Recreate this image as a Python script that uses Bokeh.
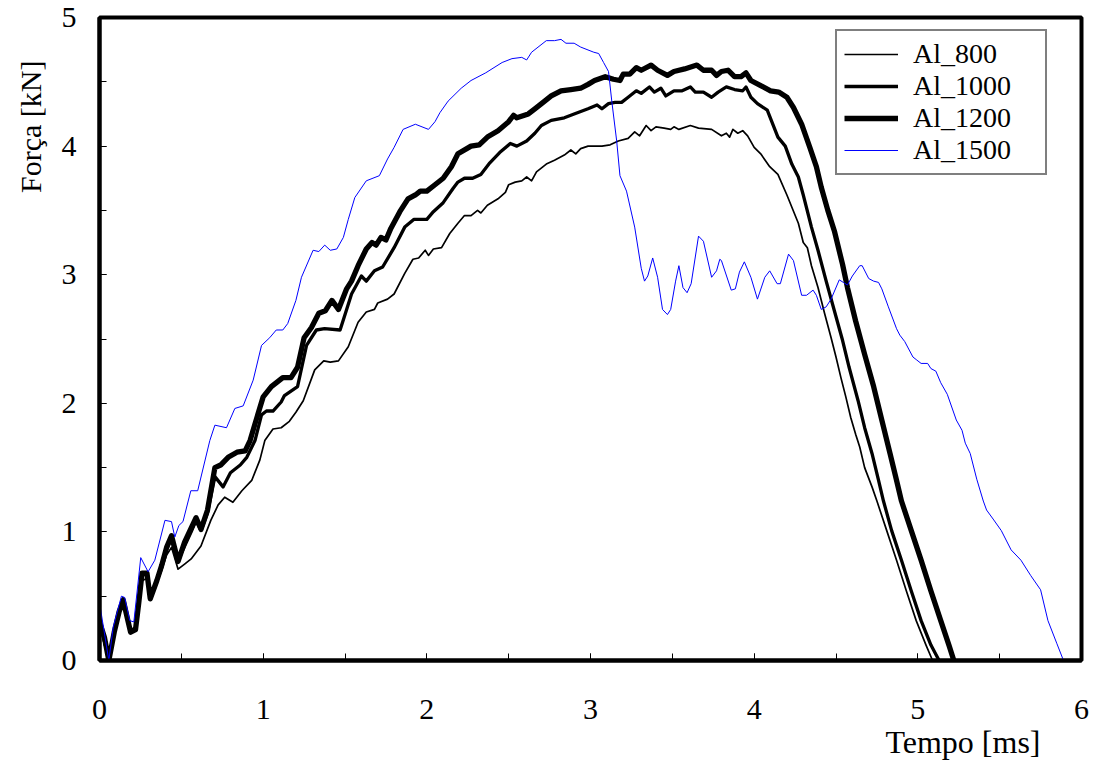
from bokeh.plotting import figure
from bokeh.models import Range1d, SingleIntervalTicker, Legend, LegendItem, Title
from bokeh.embed import file_html
from bokeh.resources import INLINE

# ---------------- data (time [ms], force [kN]) ----------------
t_al800 = [0.00, 0.03, 0.057, 0.09, 0.12, 0.145, 0.17, 0.19, 0.22, 0.24, 0.26, 0.29, 0.31, 0.35, 0.38,
           0.41, 0.44, 0.48, 0.52, 0.56, 0.62, 0.68, 0.725, 0.765, 0.815, 0.87, 0.93, 0.98, 1.01, 1.06,
           1.11, 1.16, 1.20, 1.245, 1.315, 1.37, 1.41, 1.46, 1.52, 1.58, 1.63, 1.68, 1.70, 1.76, 1.80,
           1.865, 1.915, 1.95, 1.99, 2.01, 2.04, 2.09, 2.14, 2.19, 2.23, 2.27, 2.31, 2.33, 2.37, 2.435,
           2.48, 2.50, 2.54, 2.58, 2.61, 2.64, 2.67, 2.73, 2.78, 2.84, 2.88, 2.91, 2.94, 2.985, 3.07,
           3.12, 3.17, 3.23, 3.27, 3.30, 3.34, 3.37, 3.40, 3.45, 3.49, 3.51, 3.54, 3.61, 3.66, 3.74,
           3.80, 3.83, 3.85, 3.87, 3.90, 3.93, 3.96, 4.00, 4.04, 4.095, 4.145, 4.20, 4.27, 4.30, 4.325,
           4.35, 4.39, 4.43, 4.47, 4.50, 4.53, 4.56, 4.59, 4.62, 4.645, 4.675, 4.72, 4.75, 4.81, 4.87,
           4.93, 4.99, 5.05, 5.09]
f_al800 = [0.30, 0.12, 0.00, 0.20, 0.36, 0.46, 0.32, 0.24, 0.26, 0.42, 0.62, 0.64, 0.52, 0.60, 0.70,
           0.82, 0.88, 0.71, 0.75, 0.79, 0.89, 1.09, 1.21, 1.27, 1.23, 1.32, 1.40, 1.56, 1.71, 1.80,
           1.81, 1.86, 1.93, 2.02, 2.26, 2.33, 2.32, 2.33, 2.44, 2.63, 2.71, 2.73, 2.78, 2.81, 2.85,
           3.01, 3.12, 3.13, 3.19, 3.15, 3.20, 3.21, 3.32, 3.40, 3.46, 3.46, 3.50, 3.48, 3.54, 3.59,
           3.64, 3.70, 3.72, 3.73, 3.76, 3.73, 3.80, 3.86, 3.89, 3.93, 3.97, 3.94, 3.98, 4.00, 4.00,
           4.01, 4.04, 4.06, 4.11, 4.08, 4.16, 4.12, 4.15, 4.14, 4.13, 4.15, 4.13, 4.16, 4.14, 4.13,
           4.08, 4.10, 4.07, 4.13, 4.10, 4.12, 4.08, 3.99, 3.94, 3.84, 3.78, 3.62, 3.40, 3.25, 3.21,
           3.07, 2.90, 2.70, 2.51, 2.36, 2.20, 2.05, 1.89, 1.76, 1.66, 1.50, 1.35, 1.24, 1.01, 0.78,
           0.54, 0.31, 0.12, 0.00]

t_al1000 = [0.00, 0.03, 0.057, 0.09, 0.12, 0.145, 0.17, 0.19, 0.22, 0.24, 0.26, 0.29, 0.31, 0.35, 0.38,
            0.41, 0.44, 0.48, 0.52, 0.56, 0.59, 0.62, 0.66, 0.705, 0.755, 0.80, 0.86, 0.90, 0.95, 0.99,
            1.02, 1.06, 1.11, 1.13, 1.21, 1.265, 1.325, 1.375, 1.47, 1.51, 1.54, 1.60, 1.63, 1.68, 1.73,
            1.80, 1.865, 1.92, 2.00, 2.04, 2.10, 2.16, 2.19, 2.23, 2.28, 2.33, 2.385, 2.445, 2.51, 2.55,
            2.61, 2.66, 2.70, 2.76, 2.84, 2.90, 2.985, 3.04, 3.07, 3.11, 3.15, 3.19, 3.23, 3.28, 3.31,
            3.36, 3.39, 3.43, 3.46, 3.51, 3.56, 3.61, 3.64, 3.69, 3.74, 3.78, 3.83, 3.88, 3.93, 3.95,
            3.98, 4.02, 4.08, 4.145, 4.19, 4.23, 4.27, 4.30, 4.35, 4.39, 4.44, 4.49, 4.54, 4.58, 4.635,
            4.675, 4.72, 4.76, 4.79, 4.84, 4.90, 4.96, 5.02, 5.08, 5.13]
f_al1000 = [0.35, 0.15, 0.02, 0.22, 0.38, 0.48, 0.33, 0.22, 0.25, 0.44, 0.66, 0.68, 0.50, 0.62, 0.73,
            0.86, 0.95, 0.78, 0.89, 1.00, 1.09, 1.01, 1.15, 1.43, 1.35, 1.46, 1.52, 1.58, 1.71, 1.91,
            1.94, 1.94, 2.01, 2.06, 2.13, 2.45, 2.57, 2.58, 2.57, 2.73, 2.85, 2.99, 2.95, 3.03, 3.06,
            3.21, 3.37, 3.43, 3.43, 3.49, 3.56, 3.67, 3.72, 3.75, 3.75, 3.78, 3.87, 3.95, 4.02, 4.00,
            4.04, 4.10, 4.16, 4.20, 4.22, 4.25, 4.29, 4.32, 4.29, 4.33, 4.34, 4.34, 4.38, 4.43, 4.41,
            4.46, 4.42, 4.45, 4.39, 4.43, 4.43, 4.46, 4.42, 4.42, 4.38, 4.42, 4.46, 4.44, 4.43, 4.46,
            4.38, 4.33, 4.28, 4.07, 4.00, 3.86, 3.76, 3.62, 3.37, 3.19, 2.95, 2.72, 2.49, 2.28, 2.02,
            1.81, 1.61, 1.40, 1.24, 1.01, 0.78, 0.54, 0.31, 0.12, 0.00]

t_al1200 = [0.00, 0.03, 0.057, 0.09, 0.12, 0.145, 0.17, 0.19, 0.22, 0.24, 0.26, 0.29, 0.31, 0.35, 0.38,
            0.41, 0.44, 0.48, 0.52, 0.56, 0.59, 0.62, 0.66, 0.705, 0.74, 0.786, 0.84, 0.89, 0.92, 0.95,
            1.00, 1.05, 1.12, 1.17, 1.21, 1.25, 1.295, 1.34, 1.38, 1.42, 1.46, 1.51, 1.54, 1.58, 1.63,
            1.665, 1.69, 1.72, 1.75, 1.78, 1.835, 1.885, 1.93, 1.96, 2.00, 2.04, 2.10, 2.15, 2.19, 2.27,
            2.32, 2.37, 2.435, 2.50, 2.53, 2.55, 2.62, 2.66, 2.72, 2.76, 2.82, 2.88, 2.94, 2.985, 3.025,
            3.09, 3.14, 3.18, 3.20, 3.24, 3.28, 3.31, 3.37, 3.41, 3.47, 3.51, 3.575, 3.65, 3.69, 3.74,
            3.77, 3.80, 3.84, 3.88, 3.92, 3.95, 3.98, 4.04, 4.10, 4.15, 4.20, 4.24, 4.29, 4.34, 4.38,
            4.41, 4.45, 4.49, 4.54, 4.57, 4.62, 4.675, 4.73, 4.78, 4.83, 4.87, 4.90, 4.96, 5.02, 5.08,
            5.14, 5.19, 5.22]
f_al1200 = [0.30, 0.18, 0.00, 0.22, 0.38, 0.47, 0.33, 0.22, 0.24, 0.45, 0.68, 0.68, 0.48, 0.62, 0.74,
            0.88, 0.97, 0.77, 0.92, 1.03, 1.11, 1.02, 1.17, 1.50, 1.52, 1.58, 1.62, 1.63, 1.71, 1.84,
            2.05, 2.13, 2.20, 2.20, 2.28, 2.51, 2.59, 2.70, 2.72, 2.80, 2.73, 2.89, 2.95, 3.07, 3.20,
            3.25, 3.23, 3.29, 3.27, 3.36, 3.49, 3.59, 3.62, 3.65, 3.65, 3.69, 3.75, 3.84, 3.94, 4.00,
            4.01, 4.07, 4.12, 4.19, 4.24, 4.22, 4.25, 4.29, 4.35, 4.39, 4.43, 4.44, 4.45, 4.48, 4.51,
            4.54, 4.52, 4.51, 4.56, 4.56, 4.61, 4.59, 4.63, 4.59, 4.55, 4.58, 4.60, 4.63, 4.59, 4.59,
            4.55, 4.58, 4.59, 4.54, 4.54, 4.57, 4.51, 4.47, 4.43, 4.42, 4.38, 4.30, 4.17, 3.99, 3.84,
            3.68, 3.50, 3.34, 3.08, 2.90, 2.64, 2.38, 2.13, 1.87, 1.61, 1.40, 1.24, 1.01, 0.78, 0.54,
            0.31, 0.12, 0.00]

t_al1500 = [0.00, 0.057, 0.084, 0.134, 0.154, 0.185, 0.21, 0.252, 0.297, 0.338, 0.40, 0.44, 0.46, 0.485,
            0.51, 0.558, 0.60, 0.674, 0.705, 0.776, 0.827, 0.878, 0.939, 0.99, 1.04, 1.08, 1.12, 1.15,
            1.20, 1.234, 1.305, 1.34, 1.376, 1.41, 1.45, 1.49, 1.52, 1.56, 1.63, 1.71, 1.76, 1.80, 1.855,
            1.93, 2.01, 2.05, 2.08, 2.13, 2.21, 2.27, 2.36, 2.46, 2.52, 2.58, 2.61, 2.64, 2.73, 2.78,
            2.82, 2.85, 2.90, 2.94, 3.02, 3.05, 3.08, 3.11, 3.13, 3.16, 3.18, 3.22, 3.27, 3.31, 3.33,
            3.35, 3.38, 3.41, 3.44, 3.47, 3.49, 3.52, 3.54, 3.565, 3.59, 3.615, 3.66, 3.69, 3.74, 3.77,
            3.79, 3.80, 3.86, 3.885, 3.91, 3.94, 3.98, 4.02, 4.065, 4.095, 4.14, 4.16, 4.21, 4.24, 4.29,
            4.32, 4.36, 4.38, 4.41, 4.44, 4.47, 4.52, 4.545, 4.57, 4.60, 4.645, 4.66, 4.70, 4.73, 4.76,
            4.78, 4.82, 4.87, 4.89, 4.92, 4.97, 4.99, 5.02, 5.06, 5.08, 5.11, 5.14, 5.18, 5.235, 5.27,
            5.29, 5.32, 5.36, 5.40, 5.42, 5.46, 5.51, 5.57, 5.63, 5.69, 5.75, 5.795, 5.85, 5.89]
f_al1500 = [0.45, 0.00, 0.26, 0.50, 0.49, 0.31, 0.30, 0.80, 0.69, 0.78, 1.09, 1.08, 0.96, 1.05,
            1.08, 1.32, 1.32, 1.71, 1.83, 1.81, 1.96, 1.98, 2.18, 2.45, 2.51, 2.57, 2.57, 2.62,
            2.80, 2.98, 3.19, 3.18, 3.23, 3.19, 3.20, 3.29, 3.43, 3.60, 3.73, 3.77, 3.90, 3.99, 4.13,
            4.17, 4.13, 4.19, 4.26, 4.35, 4.45, 4.51, 4.57, 4.65, 4.68, 4.69, 4.67, 4.73, 4.82, 4.82,
            4.83, 4.80, 4.80, 4.77, 4.73, 4.72, 4.65, 4.58, 4.35, 4.04, 3.77, 3.65, 3.37, 3.05, 2.95,
            2.99, 3.13, 2.98, 2.73, 2.69, 2.73, 2.95, 3.07, 2.90, 2.86, 2.93, 3.30, 3.26, 2.98, 3.03,
            3.12, 3.11, 2.88, 2.89, 3.02, 3.10, 2.98, 2.81, 2.98, 3.03, 2.93, 2.93, 3.16, 3.11, 2.84,
            2.84, 2.88, 2.84, 2.73, 2.75, 2.81, 2.96, 2.94, 2.92, 2.99, 3.07, 3.07, 2.97, 2.95, 2.94,
            2.89, 2.75, 2.58, 2.53, 2.48, 2.36, 2.34, 2.31, 2.31, 2.27, 2.25, 2.16, 2.07, 1.87, 1.79,
            1.69, 1.61, 1.41, 1.24, 1.17, 1.10, 1.01, 0.86, 0.78, 0.66, 0.55, 0.31, 0.13, 0.00]

series_names = ["Al_800", "Al_1000", "Al_1200", "Al_1500"]
x_title = "Tempo [ms]"
y_title = "Força [kN]"

FONT = "Liberation Serif"

p = figure(width=1101, height=765, output_backend="svg", toolbar_location=None,
           x_range=Range1d(0, 6), y_range=Range1d(0, 5),
           min_border_left=98, min_border_right=20, min_border_top=17, min_border_bottom=105)
p.xgrid.visible = False
p.ygrid.visible = False
p.outline_line_color = "black"
p.outline_line_width = 4
p.background_fill_color = "white"
p.border_fill_color = "white"

for ax in (p.xaxis[0], p.yaxis[0]):
    ax.ticker = SingleIntervalTicker(interval=1, num_minor_ticks=2)
    ax.axis_line_color = "black"
    ax.axis_line_width = 4
    ax.major_tick_in = 7
    ax.major_tick_out = 0
    ax.minor_tick_in = 7
    ax.minor_tick_out = 0
    ax.major_tick_line_color = "black"
    ax.minor_tick_line_color = "black"
    ax.major_tick_line_width = 1
    ax.minor_tick_line_width = 1
    ax.major_label_text_font = FONT
    ax.major_label_text_font_size = "30px"
    ax.major_label_text_color = "black"
p.xaxis[0].major_label_standoff = 39
p.yaxis[0].major_label_standoff = 23

r800 = p.line(t_al800, f_al800, line_color="black", line_width=1.7, line_join="round")
r1000 = p.line(t_al1000, f_al1000, line_color="black", line_width=3.3, line_join="round")
r1200 = p.line(t_al1200, f_al1200, line_color="black", line_width=5.3, line_join="round")
r1500 = p.line(t_al1500, f_al1500, line_color="#0000ff", line_width=1.0, line_join="round")

legend = Legend(items=[LegendItem(label=series_names[0], renderers=[r800]),
                       LegendItem(label=series_names[1], renderers=[r1000]),
                       LegendItem(label=series_names[2], renderers=[r1200]),
                       LegendItem(label=series_names[3], renderers=[r1500])],
                location=(736, 485))
legend.label_text_font = FONT
legend.label_text_font_size = "28px"
legend.label_text_color = "black"
legend.label_height = 28
legend.glyph_height = 28
legend.glyph_width = 54
legend.label_standoff = 15
legend.label_width = 125
legend.spacing = 0
legend.padding = 7
legend.margin = 0
legend.border_line_color = "black"
legend.border_line_width = 2
legend.background_fill_color = "white"
legend.background_fill_alpha = 1.0
p.add_layout(legend, "center")

p.add_layout(Title(text=y_title, align="right", offset=43, standoff=23,
                   text_font=FONT, text_font_size="30px", text_font_style="normal",
                   text_color="black"), "left")
p.add_layout(Title(text=x_title, align="right", offset=41, standoff=0,
                   text_font=FONT, text_font_size="32px", text_font_style="normal",
                   text_color="black"), "below")

open("out.html", "w").write(file_html(p, INLINE))
